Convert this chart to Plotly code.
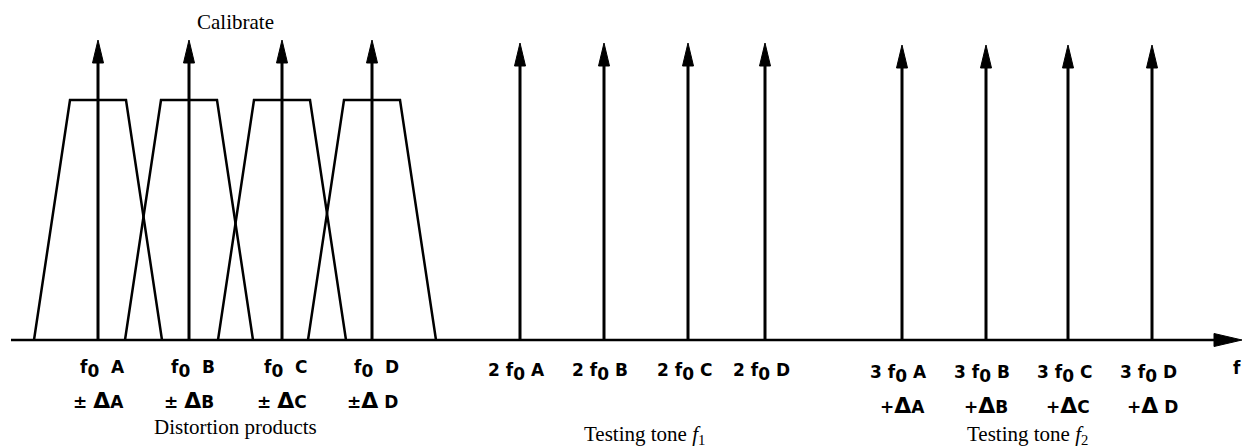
import plotly.graph_objects as go

# ---- data (frequency positions on the f axis, amplitudes above the baseline) ----
calib_freqs = [98, 189, 282, 372]          # f0 A..D  (calibrate tones)
harm2_freqs = [520, 604, 688, 765]         # 2 f0 A..D (testing tone f1)
harm3_freqs = [902, 986, 1068, 1152]       # 3 f0 A..D (testing tone f2)
group_amplitudes = [300, 297, 295]         # arrow tip heights per group
filter_height = 240                        # passband top of each filter
filter_top_halfwidth = 28
filter_bottom_halfwidth = 64

SUB0 = "<sub><span style='font-size:17px'>0</span></sub>"
DELTA = "<span style='font-size:22px'>\u0394</span>"
NB = "\u00a0"
row1_g1 = [f"f{SUB0}{NB}{NB}{n}" for n in ["A", "B", "C", "D"]]
row2_g1 = [f"\u00b1{NB}{DELTA}A", f"\u00b1{NB}{DELTA}B", f"\u00b1{NB}{DELTA}C", f"\u00b1{DELTA}{NB}D"]
row1_g2 = [f"2{NB}f{SUB0}{NB}{n}" for n in ["A", "B", "C", "D"]]
row1_g3 = [f"3{NB}f{SUB0}{NB}{n}" for n in ["A", "B", "C", "D"]]
row2_g3 = [f"+{DELTA}A", f"+{DELTA}B", f"+{DELTA}C", f"+{DELTA}{NB}D"]
group_titles = ["Distortion products", "Testing tone <i>f</i><sub>1</sub>", "Testing tone <i>f</i><sub>2</sub>"]
top_title = "Calibrate"
axis_label = "f"

axis_start, axis_end = 11, 1242

BLACK = "#000000"
fig = go.Figure()

def line(xs, ys, w):
    fig.add_trace(go.Scatter(x=xs, y=ys, mode="lines", line=dict(color=BLACK, width=w),
                             hoverinfo="skip", showlegend=False))

def tri(xs, ys):
    fig.add_trace(go.Scatter(x=xs, y=ys, mode="lines", fill="toself", fillcolor=BLACK,
                             line=dict(color=BLACK, width=1), hoverinfo="skip", showlegend=False))

head_len, head_half = 23, 5.5

# filters (trapezoids)
for f in calib_freqs:
    line([f - filter_bottom_halfwidth, f - filter_top_halfwidth, f + filter_top_halfwidth, f + filter_bottom_halfwidth],
         [0, filter_height, filter_height, 0], 2.5)

# tone arrows
for freqs, amp in zip([calib_freqs, harm2_freqs, harm3_freqs], group_amplitudes):
    for f in freqs:
        line([f, f], [0, amp - head_len + 2], 3)
        tri([f - head_half, f, f + head_half, f - head_half],
            [amp - head_len, amp, amp - head_len, amp - head_len])

# frequency axis with arrow
line([axis_start, axis_end - 25], [0, 0], 2.5)
tri([axis_end - 28, axis_end, axis_end - 28, axis_end - 28], [6.5, 0, -6.5, 6.5])

ann = []
sans = dict(family="DejaVu Sans, Liberation Sans, sans-serif", size=17, color=BLACK, weight="bold")
serif = dict(family="Liberation Serif, Times New Roman, serif", size=21, color=BLACK)

def label(x, y, t, font):
    ann.append(dict(x=x, y=y, xref="x", yref="y", text=t, showarrow=False,
                    xanchor="center", yanchor="middle", font=font))

for f, t in zip(calib_freqs, row1_g1):
    label(f + 4, -29, t, sans)
for f, t in zip(calib_freqs, row2_g1):
    label(f, -60, t, sans)
for f, t in zip(harm2_freqs, row1_g2):
    label(f - 4, -32, t, sans)
for f, t in zip(harm3_freqs, row1_g3):
    label(f - 4, -34, t, sans)
for f, t in zip(harm3_freqs, row2_g3):
    label(f, -65, t, sans)

for freqs, t, y in zip([calib_freqs, harm2_freqs, harm3_freqs], group_titles, [-87, -95, -95]):
    label(sum(freqs) / len(freqs), y, t, serif)

label(sum(calib_freqs) / len(calib_freqs), 318, top_title, serif)
label(1237, -28, axis_label, sans)

fig.update_layout(
    width=1243, height=447,
    margin=dict(l=0, r=0, t=0, b=0),
    paper_bgcolor="white", plot_bgcolor="white",
    xaxis=dict(range=[0, 1243], visible=False, fixedrange=True),
    yaxis=dict(range=[-107, 340], visible=False, fixedrange=True),
    annotations=ann,
    showlegend=False,
)

fig.write_html("out.html", config={"displayModeBar": False},
               post_script="document.body.style.margin='0px';document.body.style.overflow='hidden';")
